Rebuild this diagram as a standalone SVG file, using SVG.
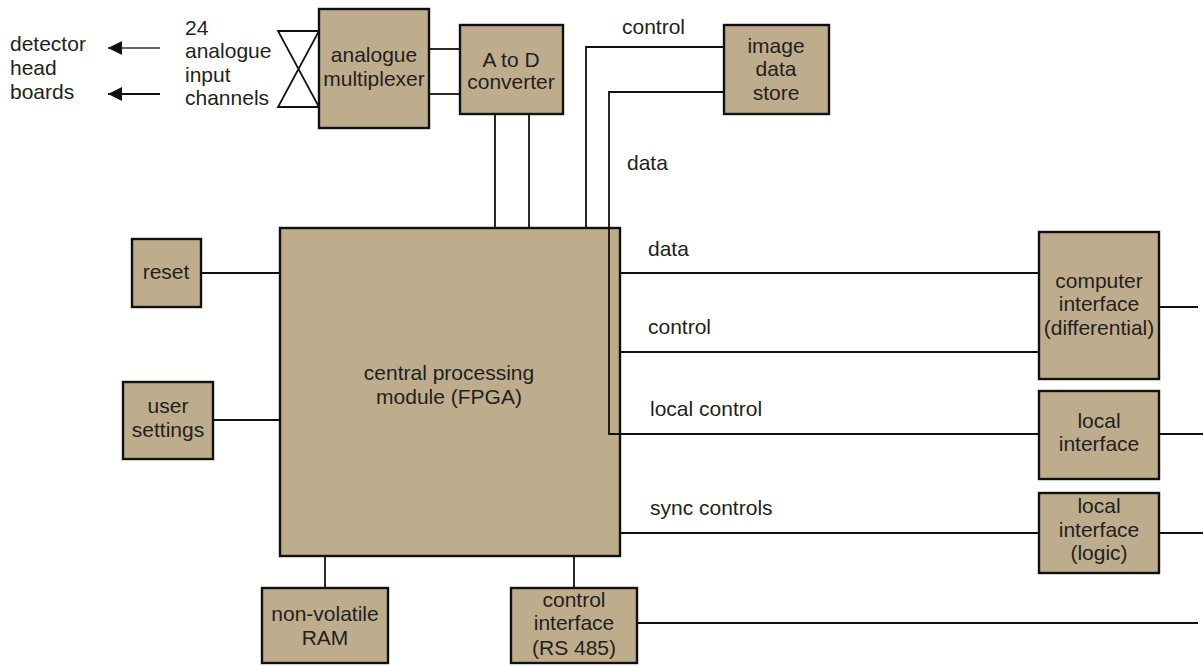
<svg xmlns="http://www.w3.org/2000/svg" width="1203" height="666" viewBox="0 0 1203 666">
<style>
.box{fill:#bead8d;stroke:#111;stroke-width:2.4}
.ln{fill:none;stroke:#111;stroke-width:1.8}
text{font-family:"Liberation Sans",Arial,sans-serif;font-size:21px;fill:#231f20}
.c{text-anchor:middle}
</style>
<defs>
<marker id="ah" viewBox="0 0 14 14" refX="14" refY="7" markerWidth="14" markerHeight="14" markerUnits="userSpaceOnUse" orient="auto">
<path d="M0,0 L14,7 L0,14 Z" fill="#111"/>
</marker>
</defs>
<g id="connectors">
<line class="ln" x1="160" y1="48" x2="108" y2="48" marker-end="url(#ah)" style="stroke:#666"/>
<line class="ln" x1="160" y1="94" x2="108" y2="94" marker-end="url(#ah)"/>
<path class="ln" d="M278,31 H319 L278,107 H319 Z"/>
<line class="ln" x1="429" y1="49" x2="460" y2="49"/>
<line class="ln" x1="429" y1="94" x2="460" y2="94"/>
<line class="ln" x1="495" y1="114" x2="495" y2="228"/>
<line class="ln" x1="529" y1="114" x2="529" y2="228"/>
<polyline class="ln" points="586,228 586,47 724,47"/>
<line class="ln" x1="201" y1="273" x2="280" y2="273"/>
<line class="ln" x1="213" y1="420" x2="280" y2="420"/>
<line class="ln" x1="325" y1="556" x2="325" y2="588"/>
<line class="ln" x1="574" y1="556" x2="574" y2="588"/>
<line class="ln" x1="637" y1="623" x2="1198" y2="623"/>
<line class="ln" x1="620" y1="273" x2="1039" y2="273"/>
<line class="ln" x1="620" y1="352" x2="1039" y2="352"/>
<line class="ln" x1="620" y1="533" x2="1039" y2="533"/>
<line class="ln" x1="1159" y1="307" x2="1198" y2="307"/>
<line class="ln" x1="1159" y1="434" x2="1203" y2="434"/>
<line class="ln" x1="1159" y1="533" x2="1203" y2="533"/>
</g>
<g id="labels">
<text x="10" y="51">detector</text>
<text x="10" y="75">head</text>
<text x="10" y="99">boards</text>
<text x="185" y="35">24</text>
<text x="185" y="58">analogue</text>
<text x="185" y="82">input</text>
<text x="185" y="105">channels</text>
<text x="622" y="34">control</text>
<text x="627" y="170">data</text>
<text x="648" y="256">data</text>
<text x="648" y="334">control</text>
<text x="650" y="416">local control</text>
<text x="650" y="515">sync controls</text>
</g>
<g id="mux"><rect class="box" x="319" y="9" width="110" height="119"/>
<text class="c" x="374" y="62">analogue</text><text class="c" x="374" y="86">multiplexer</text></g>
<g id="adc"><rect class="box" x="460" y="25" width="103" height="89"/>
<text class="c" x="511" y="67">A to D</text><text class="c" x="511" y="89">converter</text></g>
<g id="store"><rect class="box" x="724" y="25" width="105" height="89"/>
<text class="c" x="776" y="53">image</text><text class="c" x="776" y="76">data</text><text class="c" x="776" y="100">store</text></g>
<g id="cpu"><rect class="box" x="280" y="228" width="340" height="328"/>
<text class="c" x="449" y="380">central processing</text><text class="c" x="449" y="404">module (FPGA)</text></g>
<g id="dataline"><polyline class="ln" points="724,92 609,92 609,434 1039,434"/></g>
<g id="reset"><rect class="box" x="132" y="239" width="69" height="68"/>
<text class="c" x="166" y="279">reset</text></g>
<g id="user"><rect class="box" x="123" y="382" width="90" height="77"/>
<text class="c" x="168" y="413">user</text><text class="c" x="168" y="437">settings</text></g>
<g id="nvram"><rect class="box" x="262" y="588" width="126" height="75"/>
<text class="c" x="325" y="621">non-volatile</text><text class="c" x="325" y="645">RAM</text></g>
<g id="ctrlif"><rect class="box" x="511" y="588" width="126" height="75"/>
<text class="c" x="574" y="607">control</text><text class="c" x="574" y="630">interface</text><text class="c" x="574" y="655">(RS 485)</text></g>
<g id="compif"><rect class="box" x="1039" y="232" width="120" height="147"/>
<text class="c" x="1099" y="288">computer</text><text class="c" x="1099" y="311">interface</text><text class="c" x="1099" y="335">(differential)</text></g>
<g id="localif"><rect class="box" x="1039" y="391" width="120" height="88"/>
<text class="c" x="1099" y="428">local</text><text class="c" x="1099" y="451">interface</text></g>
<g id="localif2"><rect class="box" x="1039" y="493" width="120" height="80"/>
<text class="c" x="1099" y="513">local</text><text class="c" x="1099" y="537">interface</text><text class="c" x="1099" y="560">(logic)</text></g>
</svg>
